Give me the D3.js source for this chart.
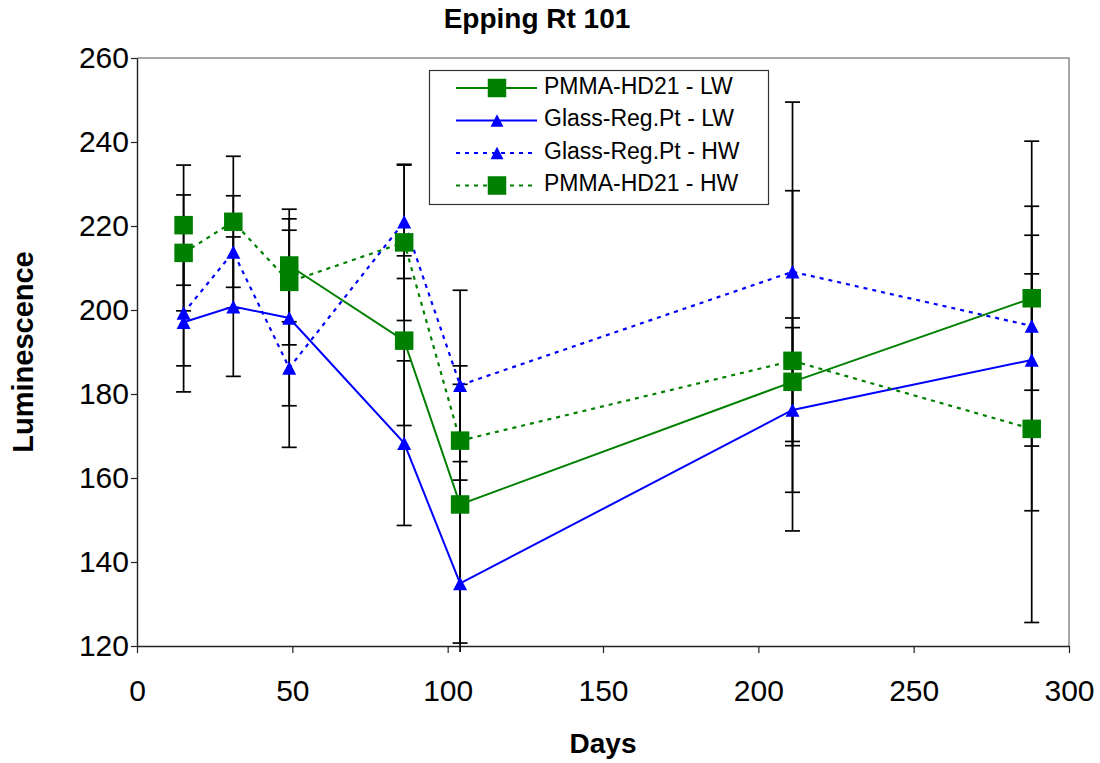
<!DOCTYPE html>
<html>
<head>
<meta charset="utf-8">
<script src="https://cdn.jsdelivr.net/npm/d3@7"></script>
<style>
  html, body { margin: 0; padding: 0; background: #fff; }
  svg { display: block; font-family: "Liberation Sans", Arial, sans-serif; }
</style>
</head>
<body>
<svg id="chart" width="1100" height="763"></svg>
<script>
// Survey days for each measurement round
const days = [15, 31, 49, 86, 104, 211, 288];

// Mean luminescence per series (null = no measurement that day)
const pmmaLW  = [220.2, null, 210.6, 192.7, 153.7, 182.9, 202.8];
const glassLW = [197.1, 200.8, 198.1, 168.3, 134.9, 176.2, 188.1];
const glassHW = [199.3, 213.8, 186.2, 221.0, 182.1, 209.1, 196.2];
const pmmaHW  = [213.6, 221.0, 206.7, 216.1, 168.9, 187.9, 171.7];

// Error-bar half widths (±) per series
const pmmaLWErr  = [14.3, null, 13.4, 20.2, 33.0, 15.2, 21.9];
const glassLWErr = [16.6, 16.6, 20.9, 19.6, 29.0, 19.6, 20.5];
const glassHWErr = [12.6, 13.4, 18.9, 13.5, 22.6, 40.4, 44.0];
const pmmaHWErr  = [13.8, 15.6, 15.0, 18.6, 13.4, 40.5, 46.1];

// Axis ticks
const xTicks = [0, 50, 100, 150, 200, 250, 300];
const yTicks = [120, 140, 160, 180, 200, 220, 240, 260];

const seriesNames = ["PMMA-HD21 - LW", "Glass-Reg.Pt - LW", "Glass-Reg.Pt - HW", "PMMA-HD21 - HW"];

const series = [
  { name: seriesNames[0], values: pmmaLW,  err: pmmaLWErr,  color: "#008000", dash: null,  marker: "square" },
  { name: seriesNames[1], values: glassLW, err: glassLWErr, color: "#0000FF", dash: null,  marker: "triangle" },
  { name: seriesNames[2], values: glassHW, err: glassHWErr, color: "#0000FF", dash: "4,5", marker: "triangle" },
  { name: seriesNames[3], values: pmmaHW,  err: pmmaHWErr,  color: "#008000", dash: "4,5", marker: "square" }
];

const svg = d3.select("#chart");
const plot = { left: 137, right: 1069, top: 58, bottom: 646 };

const x = d3.scaleLinear().domain([0, 300]).range([plot.left, plot.right]);
const y = d3.scaleLinear().domain([120, 260]).range([plot.bottom, plot.top]);

// Plot frame: grey top/right edges
svg.append("path")
  .attr("d", `M${plot.left},${plot.top}H${plot.right}V${plot.bottom}`)
  .attr("fill", "none").attr("stroke", "#8a8a8a").attr("stroke-width", 1.5);

// Axes
const xAxis = svg.append("g")
  .attr("transform", `translate(0,${plot.bottom})`)
  .call(d3.axisBottom(x).tickValues(xTicks).tickSize(7).tickSizeOuter(0).tickPadding(27));
const yAxis = svg.append("g")
  .attr("transform", `translate(${plot.left},0)`)
  .call(d3.axisLeft(y).tickValues(yTicks).tickSize(6).tickSizeOuter(0).tickPadding(2));

[xAxis, yAxis].forEach(ax => {
  ax.select(".domain").attr("stroke", "#222").attr("stroke-width", 1.4);
  ax.selectAll(".tick line").attr("stroke", "#222").attr("stroke-width", 1.2);
  ax.selectAll(".tick text")
    .attr("fill", "#000")
    .style("font-family", "'Liberation Sans', Arial, sans-serif")
    .style("font-size", "30px");
});

// Titles
svg.append("text")
  .attr("x", 537).attr("y", 28)
  .attr("text-anchor", "middle")
  .style("font-size", "28px").style("font-weight", "bold")
  .text("Epping Rt 101");

svg.append("text")
  .attr("x", (plot.left + plot.right) / 2).attr("y", 753)
  .attr("text-anchor", "middle")
  .style("font-size", "28px").style("font-weight", "bold")
  .text("Days");

svg.append("text")
  .attr("transform", "translate(33,352) rotate(-90)")
  .attr("text-anchor", "middle")
  .style("font-size", "29px").style("font-weight", "bold")
  .text("Luminescence");

// Error bars are clipped just past the plot area
svg.append("clipPath").attr("id", "errClip")
  .append("rect")
  .attr("x", plot.left - 20).attr("y", plot.top - 2)
  .attr("width", plot.right - plot.left + 40)
  .attr("height", plot.bottom - plot.top + 8);

const errLayer = svg.append("g").attr("clip-path", "url(#errClip)");
const capHalf = 7.5;

series.forEach(s => {
  const pts = days.map((d, i) => ({ d, v: s.values[i], e: s.err[i] }))
                  .filter(p => p.v != null && p.e != null);
  const g = errLayer.append("g").attr("stroke", "#000").attr("stroke-width", 1.7).attr("fill", "none");
  g.selectAll("line.bar").data(pts).join("line")
    .attr("x1", p => x(p.d)).attr("x2", p => x(p.d))
    .attr("y1", p => y(p.v - p.e)).attr("y2", p => y(p.v + p.e));
  g.selectAll("line.capHi").data(pts).join("line").attr("class", "capHi")
    .attr("x1", p => x(p.d) - capHalf).attr("x2", p => x(p.d) + capHalf)
    .attr("y1", p => y(p.v + p.e)).attr("y2", p => y(p.v + p.e));
  g.selectAll("line.capLo").data(pts).join("line").attr("class", "capLo")
    .attr("x1", p => x(p.d) - capHalf).attr("x2", p => x(p.d) + capHalf)
    .attr("y1", p => y(p.v - p.e)).attr("y2", p => y(p.v - p.e));
});

// Connecting lines (gaps where a value is missing)
const line = d3.line()
  .defined(p => p.v != null)
  .x(p => x(p.d)).y(p => y(p.v));

series.forEach(s => {
  const pts = days.map((d, i) => ({ d, v: s.values[i] }));
  svg.append("path")
    .attr("d", line(pts))
    .attr("fill", "none")
    .attr("stroke", s.color)
    .attr("stroke-width", s.dash ? 2.2 : 2)
    .attr("stroke-dasharray", s.dash);
});

// Marker shapes
function drawMarker(sel, type, cx, cy, color, scale) {
  if (type === "square") {
    const sz = 18.5 * scale;
    sel.append("rect")
      .attr("x", cx - sz / 2).attr("y", cy - sz / 2)
      .attr("width", sz).attr("height", sz)
      .attr("fill", color);
  } else {
    const w = 14 * scale, h = 13.5 * scale;
    sel.append("path")
      .attr("d", `M${cx},${cy - h / 2}L${cx + w / 2},${cy + h / 2}L${cx - w / 2},${cy + h / 2}Z`)
      .attr("fill", color);
  }
}

const markerLayer = svg.append("g");
series.forEach(s => {
  days.forEach((d, i) => {
    if (s.values[i] == null) return;
    drawMarker(markerLayer, s.marker, x(d), y(s.values[i]), s.color, 1);
  });
});

// Legend
const legend = svg.append("g");
legend.append("rect")
  .attr("x", 429.5).attr("y", 70.5).attr("width", 339).attr("height", 134)
  .attr("fill", "#fff").attr("stroke", "#333").attr("stroke-width", 1.2);

const rowY = [88, 120.5, 153, 185.5];
series.forEach((s, i) => {
  const ry = rowY[i];
  legend.append("line")
    .attr("x1", 456).attr("x2", 537).attr("y1", ry).attr("y2", ry)
    .attr("stroke", s.color).attr("stroke-width", s.dash ? 2.2 : 2)
    .attr("stroke-dasharray", s.dash);
  drawMarker(legend, s.marker, 497, ry, s.color, s.marker === "square" ? 1 : 0.92);
  legend.append("text")
    .attr("x", 544).attr("y", ry + 5.5)
    .style("font-size", "23px")
    .text(s.name);
});
</script>
</body>
</html>
